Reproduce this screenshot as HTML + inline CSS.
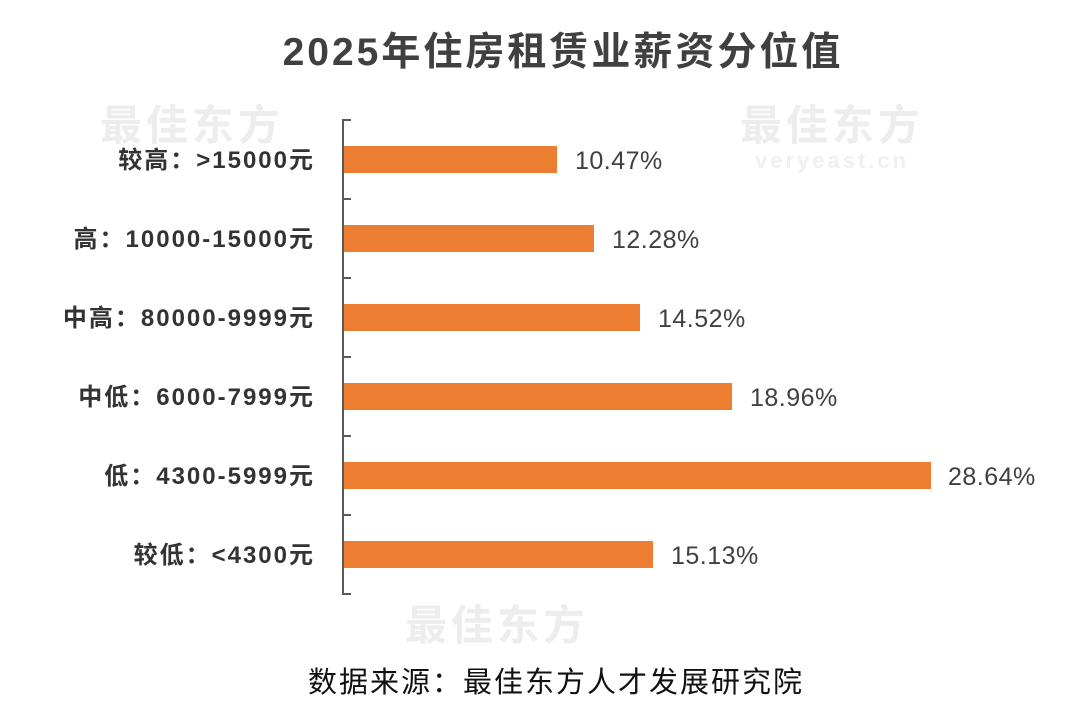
<!DOCTYPE html>
<html><head><meta charset="utf-8"><style>
body{margin:0;background:#fff;}
</style></head><body>
<svg width="1080" height="724" viewBox="0 0 1080 724" xmlns="http://www.w3.org/2000/svg" style="display:block;font-family:'Liberation Sans','Noto Sans CJK SC',sans-serif">
<g fill="#ededed" font-weight="bold" font-size="42">
<text x="100" y="140" letter-spacing="4">最佳东方</text>
<text x="740" y="140" letter-spacing="4">最佳东方</text>
<text x="405" y="640" letter-spacing="4">最佳东方</text>
</g>
<g fill="#f0f0f0" font-weight="bold" font-size="22">
<text x="755" y="168" letter-spacing="3">veryeast.cn</text>
</g>
<text x="563" y="65" text-anchor="middle" font-size="39" font-weight="bold" fill="#404040" letter-spacing="3">2025年住房租赁业薪资分位值</text>
<g stroke="#595959" stroke-width="2" fill="none">
<path d="M351 120H343V594H351"/>
<path d="M343 199H351M343 278H351M343 357H351M343 436H351M343 515H351"/>
</g>
<g fill="#ed7d31">
<rect x="344" y="146" width="213" height="27"/>
<rect x="344" y="225" width="250" height="27"/>
<rect x="344" y="304" width="296" height="27"/>
<rect x="344" y="383" width="388" height="27"/>
<rect x="344" y="462" width="587" height="27"/>
<rect x="344" y="541" width="309" height="27"/>
</g>
<g font-size="24" font-weight="bold" fill="#333" text-anchor="end" letter-spacing="2">
<text x="315" y="168">较高：&gt;15000元</text>
<text x="315" y="247">高：10000-15000元</text>
<text x="315" y="326">中高：80000-9999元</text>
<text x="315" y="405">中低：6000-7999元</text>
<text x="315" y="484">低：4300-5999元</text>
<text x="315" y="563">较低：&lt;4300元</text>
</g>
<g font-size="25" fill="#404040" letter-spacing="0.5">
<text x="575" y="169">10.47%</text>
<text x="612" y="248">12.28%</text>
<text x="658" y="327">14.52%</text>
<text x="750" y="406">18.96%</text>
<text x="948" y="485">28.64%</text>
<text x="671" y="564">15.13%</text>
</g>
<text x="556" y="692" text-anchor="middle" font-size="29" fill="#111" letter-spacing="2">数据来源：最佳东方人才发展研究院</text>
</svg>
</body></html>
